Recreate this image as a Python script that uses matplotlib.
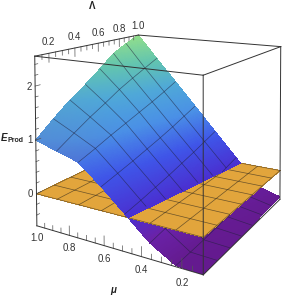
import numpy as np
import matplotlib
matplotlib.use('Agg')
import matplotlib.pyplot as plt
from matplotlib.colors import LinearSegmentedColormap, Normalize, to_rgb
from mpl_toolkits.mplot3d import proj3d

plt.rcParams['font.family'] = ['Liberation Sans', 'DejaVu Sans']

lam = np.array([0.1, 0.229, 0.357, 0.486, 0.614, 0.743, 0.871, 1.0])
mu = np.array([1.0, 0.871, 0.743, 0.614, 0.486, 0.357, 0.229, 0.1])
e_prod = np.array([
    [1.00, 1.28, 1.54, 1.76, 2.00, 2.26, 2.41, 2.55],
    [0.88, 1.08, 1.27, 1.44, 1.62, 1.77, 1.91, 2.05],
    [0.76, 0.87, 0.99, 1.10, 1.21, 1.32, 1.44, 1.57],
    [0.42, 0.50, 0.58, 0.67, 0.76, 0.86, 0.97, 1.08],
    [0.05, 0.11, 0.18, 0.25, 0.33, 0.41, 0.50, 0.59],
    [-0.33, -0.28, -0.23, -0.17, -0.11, -0.05, 0.03, 0.10],
    [-0.58, -0.57, -0.56, -0.54, -0.52, -0.49, -0.46, -0.42],
    [-0.59, -0.585, -0.58, -0.575, -0.57, -0.56, -0.555, -0.55],
])
lam_ticks = [0.2, 0.4, 0.6, 0.8, 1.0]
mu_ticks = [1.0, 0.8, 0.6, 0.4, 0.2]
e_ticks = [0, 1, 2]

lam_lo, lam_hi = 0.1, 1.0
mu_lo, mu_hi = 0.1, 1.0
e_lo, e_hi = -0.6, 2.55

W, H = 282, 295
fig = plt.figure(figsize=(W / 100, H / 100), dpi=100)
ax = fig.add_axes([-6.5 / W, 0, H / W, 1], projection='3d', computed_zorder=False)
ax.set_xlim(lam_lo, lam_hi, view_margin=0)
ax.set_ylim(mu_lo, mu_hi, view_margin=0)
ax.set_zlim(e_lo, e_hi, view_margin=0)
ax.set_axis_off()

# box corners (lam, mu, e) and where they sit in the reference (pixels)
corners = np.array([
    [lam_lo, mu_hi, e_hi, 35, 56], [lam_lo, mu_hi, e_lo, 37, 226],
    [lam_hi, mu_hi, e_hi, 138, 35],
    [lam_lo, mu_lo, e_hi, 203, 75], [lam_lo, mu_lo, e_lo, 203, 275],
    [lam_hi, mu_lo, e_hi, 281, 47], [lam_hi, mu_lo, e_lo, 280, 199],
])
# the reference camera is off-centre, view_init can't do that, so solve the camera matrix
frac = np.c_[(corners[:, 3] + 6.5) / H, (H - corners[:, 4]) / H]
uv = ax.transLimits.inverted().transform(frac)
rows = []
for (X, Y, Z), (u, v) in zip(corners[:, :3], uv):
    rows.append([X, Y, Z, 1, 0, 0, 0, 0, -u * X, -u * Y, -u * Z, -u])
    rows.append([0, 0, 0, 0, X, Y, Z, 1, -v * X, -v * Y, -v * Z, -v])
P = np.linalg.svd(np.array(rows))[2][-1].reshape(3, 4)
if P[2] @ [0.5, 0.5, 1, 1] < 0:
    P = -P
M = np.array([P[0], P[1], [0, 0, 0, -1], P[2]])
ax.get_proj = lambda: M

colors = [(-0.6, '#641a8e'), (-0.3, '#6a22a8'), (0.0, '#4a2fd0'), (0.5, '#3f55e8'),
          (1.0, '#4a90e6'), (1.5, '#4fa8d8'), (2.0, '#62c4b0'), (2.55, '#93df8a')]
norm = Normalize(e_lo, e_hi)
cmap = LinearSegmentedColormap.from_list('e', [(norm(v), c) for v, c in colors])
grey_rgb = np.array(to_rgb('#808080'))

# finer facets between the table values so the colour runs smoothly
k = 14
n = len(lam) - 1
lam_f = np.interp(np.linspace(0, n, n * k + 1), np.arange(n + 1), lam)
mu_f = np.interp(np.linspace(0, n, n * k + 1), np.arange(n + 1), mu)
by_col = np.array([np.interp(lam_f, lam, row) for row in e_prod]).T  # columns along mu
z_f = np.array([np.interp(mu_f[::-1], mu[::-1], col[::-1])[::-1] for col in by_col]).T
X, Y = np.meshgrid(lam_f, mu_f)


def side_surface(mu_from, mu_to, zo):
    # grid between two mu curves, so its edge runs exactly along the plane E = 0
    t = np.linspace(0, 1, n * k + 1)[:, None]
    ys = mu_from + (mu_to - mu_from) * t
    zs = np.array([np.interp(ys[:, c][::-1], mu[::-1], by_col[c][::-1])[::-1] for c in range(len(lam_f))]).T
    xs = np.tile(lam_f, (len(t), 1))
    face = cmap(norm(zs))
    # the part left of the crease faces away from the light, a bit greyer
    slope = np.gradient(zs, axis=0) / np.gradient(ys, axis=0)
    g = (np.clip((2.6 - slope) / 2, 0, 1) * 0.18 * (zs > 0.3))[..., None]
    face[..., :3] = face[..., :3] * (1 - g) + grey_rgb * g
    ax.plot_surface(xs, ys, zs, rstride=1, cstride=1, facecolors=face, shade=False,
                    linewidth=0, antialiased=False, zorder=zo)


mu_zero = np.array([np.interp(0, col[::-1], mu[::-1]) for col in by_col])
side_surface(mu_zero, np.full_like(mu_zero, mu_lo), 1)
side_surface(np.full_like(mu_zero, mu_hi), mu_zero, 5)

low = np.where(z_f <= 0, z_f, np.nan)
high = np.where(z_f >= 0, z_f, np.nan)
line_c = '#20203a'
for z_part, zo in ((low, 2), (high, 6)):
    for r in range(k, z_f.shape[0] - 1, k):
        ax.plot(X[r], Y[r], z_part[r], color=line_c, lw=0.5, alpha=0.6, zorder=zo)
    for c in range(k, z_f.shape[1] - 1, k):
        ax.plot(X[:, c], Y[:, c], z_part[:, c], color=line_c, lw=0.5, alpha=0.6, zorder=zo)

px, py = np.meshgrid(lam, mu)
ax.plot_surface(px, py, np.zeros_like(px), rstride=1, cstride=1, color='#e2a53c', shade=False,
                linewidth=0, antialiased=False, zorder=3)
for v in lam:
    ax.plot([v, v], [mu_lo, mu_hi], [0, 0], color='#3a3020', lw=0.5, alpha=0.7, zorder=4)
for v in mu:
    ax.plot([lam_lo, lam_hi], [v, v], [0, 0], color='#3a3020', lw=0.5, alpha=0.7, zorder=4)

box = '#333333'
edges = [
    ((lam_lo, mu_hi, e_hi), (lam_hi, mu_hi, e_hi)), ((lam_hi, mu_hi, e_hi), (lam_hi, mu_lo, e_hi)),
    ((lam_hi, mu_lo, e_hi), (lam_lo, mu_lo, e_hi)), ((lam_lo, mu_lo, e_hi), (lam_lo, mu_hi, e_hi)),
    ((lam_lo, mu_hi, e_lo), (lam_lo, mu_hi, e_hi)), ((lam_lo, mu_lo, e_lo), (lam_lo, mu_lo, e_hi)),
    ((lam_hi, mu_lo, e_lo), (lam_hi, mu_lo, e_hi)), ((lam_lo, mu_hi, e_lo), (lam_lo, mu_lo, e_lo)),
    ((lam_lo, mu_lo, e_lo), (lam_hi, mu_lo, e_lo)),
]
for a, b in edges:
    ax.plot(*zip(a, b), color=box, lw=0.7, zorder=10)

# ticks
tick_c = '#555555'
for v in np.arange(0.15, 1.0, 0.05):
    major = abs(v * 5 - round(v * 5)) < 1e-6
    ax.plot([v, v], [mu_hi, mu_hi], [e_hi, e_hi - (0.17 if major else 0.09)], color=tick_c, lw=0.5, zorder=9)
    ax.plot([lam_lo, lam_lo], [v, v], [e_lo, e_lo + (0.17 if major else 0.09)], color=tick_c, lw=0.5, zorder=9)
for v in np.arange(-0.4, 2.5, 0.2):
    major = abs(v - round(v)) < 1e-6
    ax.plot([lam_lo, lam_lo + (0.035 if major else 0.02)], [mu_hi, mu_hi], [v, v], color=tick_c, lw=0.5, zorder=9)


def put(x3, y3, z3, s, **kw):
    x2, y2, _ = proj3d.proj_transform(x3, y3, z3, M)
    ax.text2D(x2, y2, s, transform=ax.transData, ha='center', va='center', zorder=11, **kw)


txt = '#333333'
for v in lam_ticks:
    put(v, mu_hi, e_hi + 0.22, '%.1f' % v, fontsize=7, color=txt)
for v in mu_ticks:
    put(lam_lo, v, e_lo - 0.23, '%.1f' % v, fontsize=7, color=txt)
for v in e_ticks:
    put(lam_lo, mu_hi + 0.04, v - 0.03, str(v), fontsize=7, color=txt)

fig.text(92 / W, 1 - 6 / H, 'Λ', fontsize=7, fontweight='bold', ha='center', va='center', color='#222222')
fig.text(113 / W, 1 - 290 / H, 'μ', fontsize=7, fontweight='bold', style='italic', ha='center', va='center', color='#222222')
fig.text(1 / W, 1 - 138 / H, 'E', fontsize=7, fontweight='bold', style='italic', ha='left', va='center', color='#222222')
fig.text(8 / W, 1 - 140 / H, 'Prod', fontsize=5, fontweight='bold', ha='left', va='center', color='#222222')

fig.savefig('out.png', dpi=100)
